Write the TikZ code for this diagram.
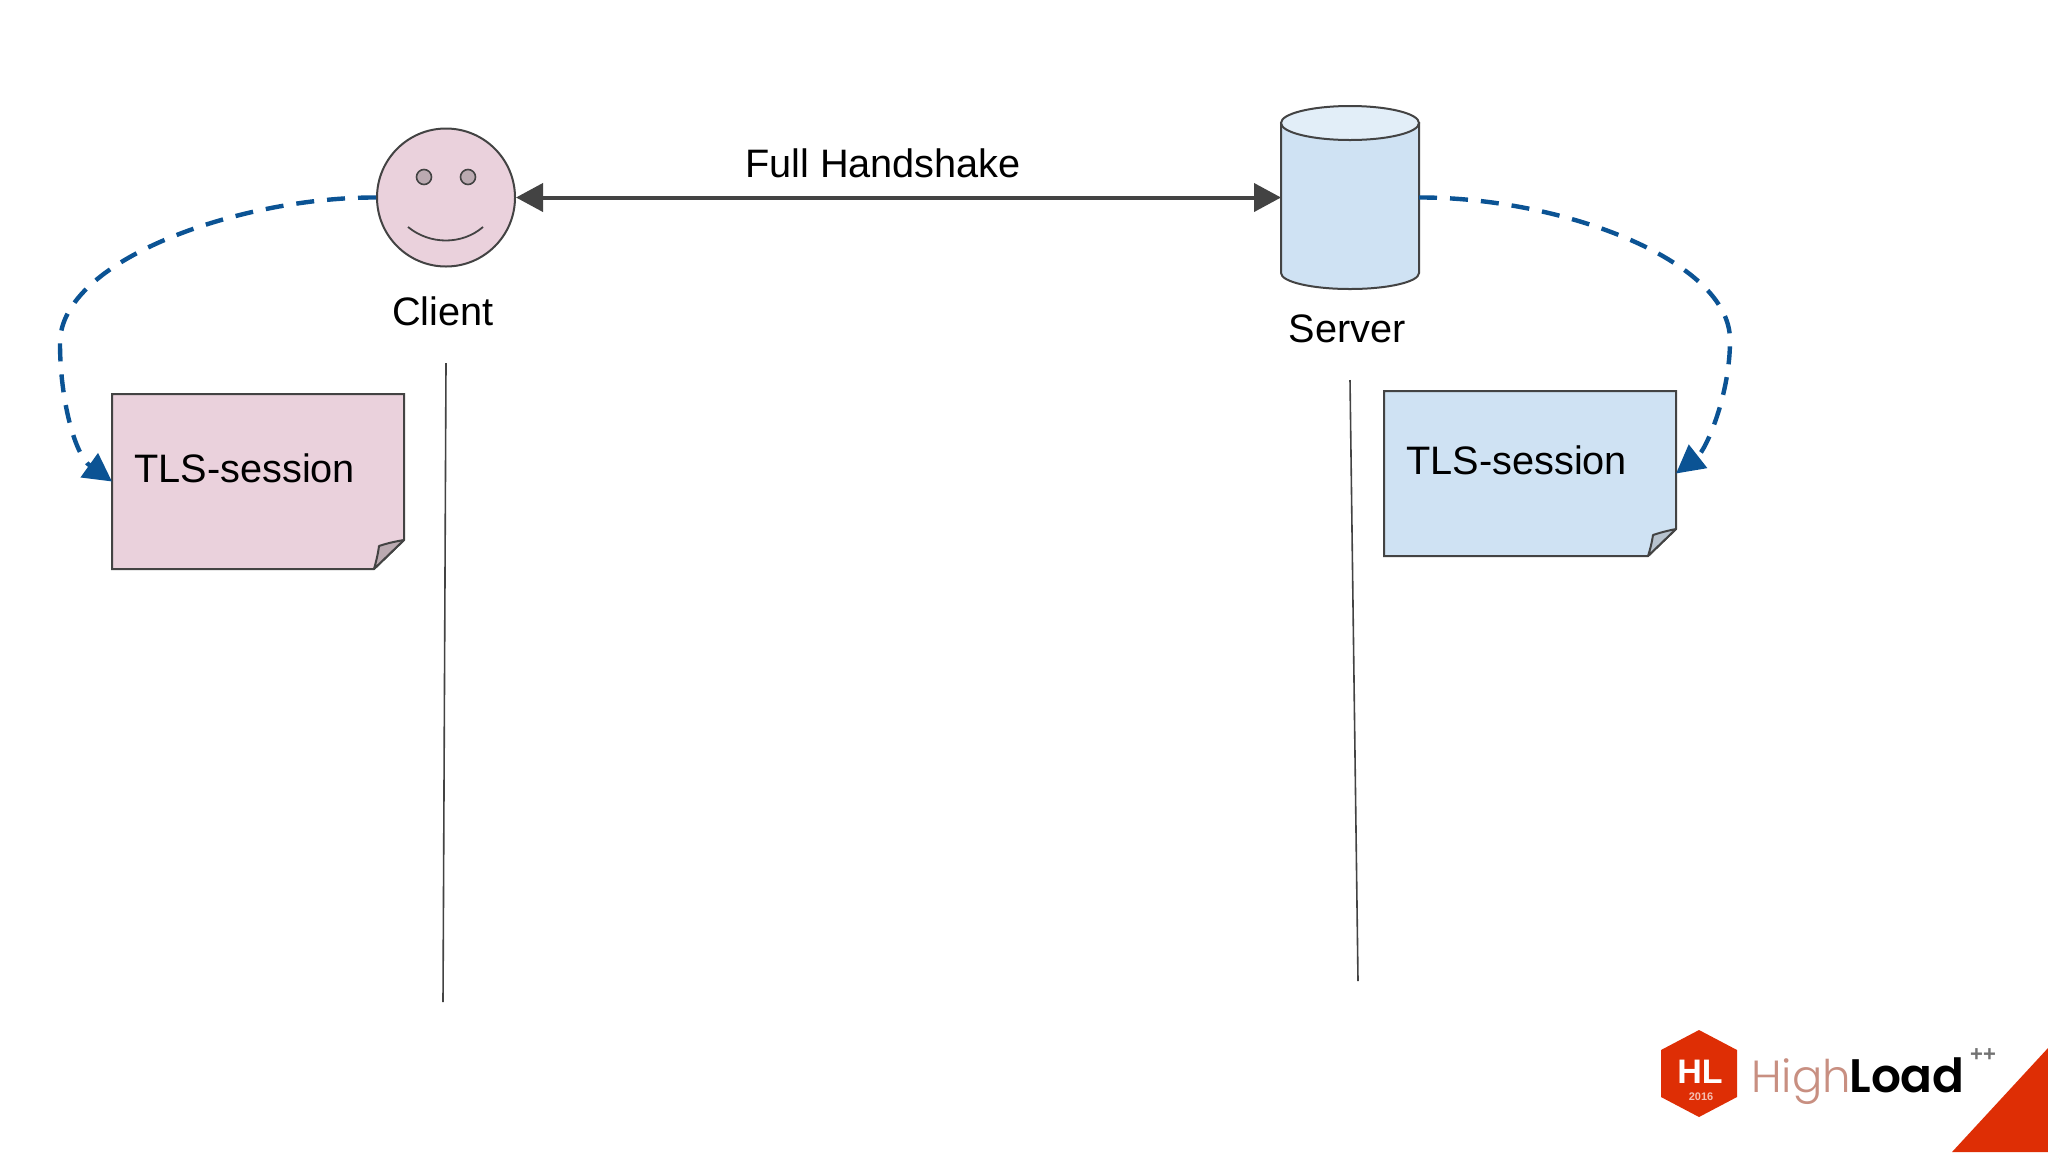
\documentclass[tikz,border=0pt]{standalone}
\usepackage{fontspec}
\setmainfont{Liberation Sans}
\newfontfamily\logolight[UprightFont={* Light}]{Poppins}
\newfontfamily\logobold[UprightFont={* SemiBold}]{Poppins}
\usetikzlibrary{arrows.meta,calc}
\definecolor{inkline}{HTML}{434343}
\definecolor{pinkfill}{HTML}{EAD1DC}
\definecolor{bluefill}{HTML}{CFE2F3}
\definecolor{bluetop}{HTML}{E2EEF8}
\definecolor{dashblue}{HTML}{0B5394}
\definecolor{pinkgrey}{HTML}{BBAAB1}
\definecolor{bluegrey}{HTML}{B8C3CE}
\definecolor{logored}{HTML}{DE2E05}
\tikzset{
  x=0.5pt,y=-0.5pt,
  label19/.style={inner sep=0pt,font=\fontsize{19.85pt}{23pt}\selectfont,text=black},
  shapeline/.style={draw=inkline,line width=1pt},
  anchorbox/.style={inner sep=0pt,outer sep=0pt,minimum width=#1},
  loopflow/.style={draw=dashblue,line width=2.2pt,dash pattern=on 9pt off 6.5pt,
    -{Triangle[length=14pt,width=14.5pt,fill=dashblue]}},
  exchange/.style={draw=inkline,line width=2pt,
    {Triangle[length=13.5pt,width=14pt,fill=inkline]}-{Triangle[length=13.5pt,width=14pt,fill=inkline]}},
  lifeline/.style={draw=inkline,line width=0.8pt},
  fold/.style={shapeline,line join=round}
}
\begin{document}
\begin{tikzpicture}
\useasboundingbox (0,0) rectangle (2048,1152);
\fill[white] (0,0) rectangle (2048,1152);

% lifelines
\coordinate (clienttop) at (446,363);
\coordinate (clientend) at (443,1002);
\coordinate (servertop) at (1350,380);
\coordinate (serverend) at (1358,981);
\draw[lifeline] (clienttop) -- (clientend);
\draw[lifeline] (servertop) -- (serverend);

% client
\node[circle,shapeline,fill=pinkfill,minimum size=69pt,inner sep=0pt] (client) at (446,197.5) {};
\node[circle,draw=inkline,line width=0.8pt,fill=pinkgrey,minimum size=7.5pt,inner sep=0pt] (lefteye) at (424,177) {};
\node[circle,draw=inkline,line width=0.8pt,fill=pinkgrey,minimum size=7.5pt,inner sep=0pt] (righteye) at (468,177) {};
\draw[draw=inkline,line width=0.9pt] (408,227) .. controls (430,245) and (462,245) .. (483,227);
\node[label19,anchor=base] (clientlabel) at (443,325) {Client};

% server
\node[anchorbox=69pt,minimum height=92pt] (server) at (1350,197.5) {};
\path[shapeline,fill=bluefill] (1281,123) -- (1281,273) arc[start angle=180,end angle=360,x radius=34.5pt,y radius=8pt] -- (1419,123) -- cycle;
\path[shapeline,fill=bluetop] (1350,123) ellipse [x radius=34.5pt,y radius=8.5pt];
\node[label19,anchor=base] (serverlabel) at (1347,342) {Server};

% notes
\node[anchorbox=146pt,minimum height=87.5pt] (clientnote) at (258,481.5) {};
\path[shapeline,fill=pinkfill,line join=miter] (clientnote.north west) -- (clientnote.north east) -- (404,540) -- (374,569) -- (clientnote.south west) -- cycle;
\path[fold,fill=pinkgrey] (404,540) .. controls (392,542) and (385,544) .. (379,546) .. controls (378,554) and (376,562) .. (374,569) -- cycle;
\node[label19,anchor=base west] (clientsession) at (134,482) {TLS-session};

\node[anchorbox=146pt,minimum height=82.5pt] (servernote) at (1530,473.5) {};
\path[shapeline,fill=bluefill,line join=miter] (servernote.north west) -- (servernote.north east) -- (1676,529) -- (1648,556) -- (servernote.south west) -- cycle;
\path[fold,fill=bluegrey] (1676,529) .. controls (1666,531) and (1659,533) .. (1653,535) .. controls (1652,542) and (1650,550) .. (1648,556) -- cycle;
\node[label19,anchor=base west] (serversession) at (1406,474) {TLS-session};

% connectors
\draw[exchange] (client.east) -- (server.west);
\node[label19,anchor=base] (handshake) at (883,177.5) {Full Handshake};
\draw[loopflow] (client.west) .. controls (240,197) and (60,260) .. (60,343)
  .. controls (60,400) and (75,455) .. (clientnote.west);
\draw[loopflow] (server.east) .. controls (1560,197) and (1730,260) .. (1730,340)
  .. controls (1730,395) and (1706,450) .. (servernote.east);

% logo
\fill[logored] (2048,1048) -- (2048,1152) -- (1952,1152) -- cycle;
\fill[logored] (1699,1030) -- (1737,1050) -- (1737,1097) -- (1699,1117) -- (1661,1097) -- (1661,1050) -- cycle;
\node[inner sep=0pt,anchor=base,text=white,font=\fontsize{17pt}{20pt}\selectfont\bfseries] (logohl) at (1700,1083) {HL};
\node[inner sep=0pt,anchor=base,text=white!70!logored,font=\fontsize{5.5pt}{6pt}\selectfont\bfseries] (logoyear) at (1701,1100) {2016};
\node[inner sep=0pt,anchor=base west,text=black!35!logored!50!white,font=\fontsize{22.5pt}{26pt}\logolight] (logohigh) at (1751,1092) {High};
\node[inner sep=0pt,anchor=base west,text=black,font=\fontsize{23.5pt}{26pt}\logobold] (logoload) at (1849,1092) {Load};
\node[inner sep=0pt,anchor=center,text=black!55,font=\fontsize{11pt}{11pt}\selectfont\bfseries] (logoplus) at (1983,1055) {++};
\end{tikzpicture}
\end{document}
